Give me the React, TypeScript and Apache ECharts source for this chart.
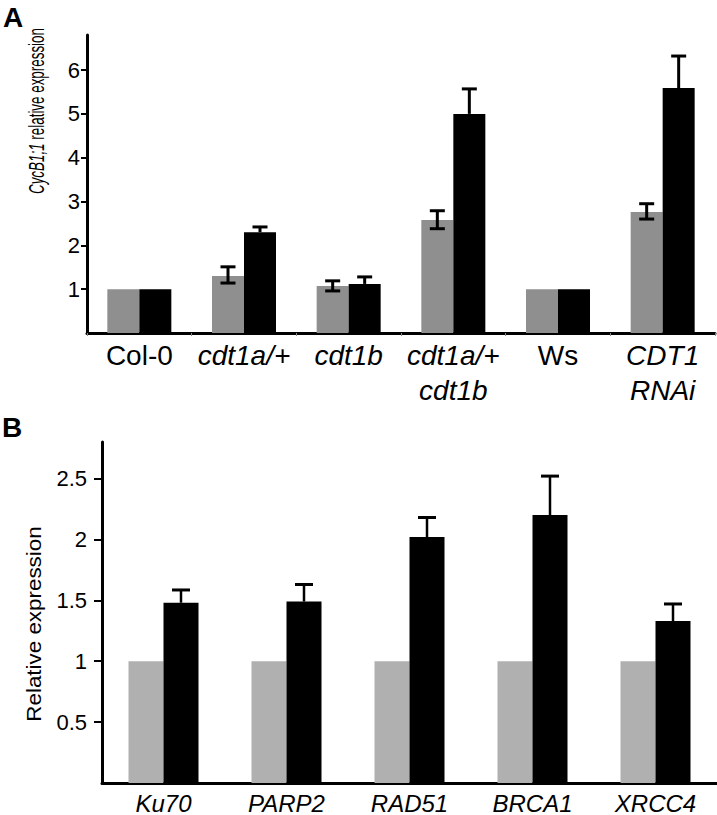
import React, { useEffect, useRef } from "react";
import * as echarts from "echarts";

// ---------- Panel A data ----------
const catsA = ["Col-0", "cdt1a/+", "cdt1b", "cdt1a/+ cdt1b", "Ws", "CDT1 RNAi"];
const italicA = [false, true, true, true, false, true];
const greyA = [1, 1.3, 1.07, 2.58, 1, 2.76];
const blackA = [1, 2.3, 1.12, 5.0, 1, 5.59];
const greyAErrLow = [null, 1.14, 0.96, 2.38, null, 2.6];
const greyAErrHigh = [null, 1.51, 1.19, 2.79, null, 2.95];
const blackAErrHigh = [null, 2.42, 1.28, 5.57, null, 6.32];
const ticksA = [1, 2, 3, 4, 5, 6];

// ---------- Panel B data ----------
const catsB = ["Ku70", "PARP2", "RAD51", "BRCA1", "XRCC4"];
const greyB = [1, 1, 1, 1, 1];
const blackB = [1.48, 1.49, 2.02, 2.2, 1.33];
const blackBErrHigh = [1.585, 1.63, 2.18, 2.52, 1.47];
const ticksB = [0.5, 1, 1.5, 2, 2.5];

const FONT = "'Liberation Sans', Arial, Helvetica, sans-serif";
const BAR_A = 32;
const BAR_B = 35;

function errRenderer(offset: number, capW: number, twoSided: boolean, vWidth: number, capLW: number) {
  return (params: any, api: any) => {
    const i = api.value(0);
    const lo = api.value(1);
    const hi = api.value(2);
    const top = api.coord([i, hi]);
    const bot = api.coord([i, lo]);
    const x = top[0] + offset;
    const style = { stroke: "#000", lineWidth: vWidth };
    const capStyle = { stroke: "#000", lineWidth: capLW };
    const children: any[] = [
      { type: "line", shape: { x1: x, y1: bot[1], x2: x, y2: top[1] }, style },
      { type: "line", shape: { x1: x - capW / 2, y1: top[1], x2: x + capW / 2, y2: top[1] }, style: capStyle },
    ];
    if (twoSided) {
      children.push({ type: "line", shape: { x1: x - capW / 2, y1: bot[1], x2: x + capW / 2, y2: bot[1] }, style: capStyle });
    }
    return { type: "group", children };
  };
}

export default function App() {
  const ref = useRef<HTMLDivElement>(null);
  useEffect(() => {
    if (!ref.current) return;
    const chart = echarts.init(ref.current, undefined, { renderer: "svg" });

    const greyAErr = greyAErrLow
      .map((lo, i) => (lo == null ? null : [i, lo, greyAErrHigh[i]]))
      .filter((d) => d !== null);
    const blackAErr = blackAErrHigh
      .map((hi, i) => (hi == null ? null : [i, blackA[i], hi]))
      .filter((d) => d !== null);
    const blackBErr = blackBErrHigh.map((hi, i) => [i, blackB[i], hi]);

    const labelA = (v: string, idx: number) => {
      const key = italicA[idx] ? "i" : "n";
      return v
        .split(" ")
        .map((p) => `{${key}|${p}}`)
        .join("\n");
    };

    // measure text widths for the rotated A title
    const titleItalic = "CycB1;1";
    const titleRest = " relative expression";
    const fItalic = `italic 22px ${FONT}`;
    const fNormal = `22px ${FONT}`;
    const w1 = echarts.format.getTextRect
      ? (echarts.format as any).getTextRect(titleItalic, fItalic).width
      : 83;
    const w2 = echarts.format.getTextRect
      ? (echarts.format as any).getTextRect(titleRest, fNormal).width
      : 190;
    const total = w1 + w2;

    chart.setOption({
      animation: false,
      textStyle: { fontFamily: FONT },
      graphic: [
        {
          type: "text",
          left: 3,
          top: 3,
          style: { text: "A", font: `bold 28px ${FONT}`, fill: "#000" },
        },
        {
          type: "text",
          left: 2,
          top: 413,
          style: { text: "B", font: `bold 28px ${FONT}`, fill: "#000" },
        },
        {
          type: "group",
          x: 37,
          y: 111,
          rotation: Math.PI / 2,
          children: [
            {
              type: "group",
              scaleX: 166 / total,
              children: [
                {
                  type: "text",
                  x: -total / 2,
                  y: 0,
                  style: { text: titleItalic, font: fItalic, fill: "#000", align: "left", verticalAlign: "middle" },
                },
                {
                  type: "text",
                  x: -total / 2 + w1,
                  y: 0,
                  style: { text: titleRest, font: fNormal, fill: "#000", align: "left", verticalAlign: "middle" },
                },
              ],
            },
          ],
        },
        {
          type: "group",
          x: 34,
          y: 624,
          rotation: Math.PI / 2,
          children: [
            {
              type: "group",
              scaleX: 1.12,
              children: [
                {
                  type: "text",
                  x: 0,
                  y: 0,
                  style: {
                    text: "Relative expression",
                    align: "center",
                    verticalAlign: "middle",
                    font: `20px ${FONT}`,
                    fill: "#000",
                  },
                },
              ],
            },
          ],
        },
      ],
      grid: [
        { left: 87, top: 35, width: 628, height: 298 },
        { left: 102, top: 442, width: 624, height: 345 },
      ],
      xAxis: [
        {
          type: "category",
          gridIndex: 0,
          data: catsA,
          axisLine: { lineStyle: { color: "#000", width: 3 } },
          axisTick: { show: true, length: 3, lineStyle: { color: "#888", width: 1 } },
          axisLabel: {
            interval: 0,
            margin: 5,
            formatter: labelA,
            rich: {
              i: { fontStyle: "italic", fontSize: 28, lineHeight: 35, color: "#000", fontFamily: FONT },
              n: { fontSize: 28, lineHeight: 35, color: "#000", fontFamily: FONT },
            },
          },
        },
        {
          type: "category",
          gridIndex: 1,
          data: catsB,
          axisLine: { lineStyle: { color: "#000", width: 3 } },
          axisTick: { show: false },
          axisLabel: {
            interval: 0,
            margin: 8,
            fontStyle: "italic",
            fontSize: 24,
            color: "#000",
          },
        },
      ],
      yAxis: [
        {
          type: "value",
          gridIndex: 0,
          min: 0,
          max: 6.8,
          splitLine: { show: false },
          axisLine: { show: true, lineStyle: { color: "#000", width: 3 } },
          axisTick: { show: true, length: 6, customValues: ticksA, lineStyle: { color: "#000", width: 2 } },
          axisLabel: { customValues: ticksA, fontSize: 22, color: "#000", margin: 7 },
        },
        {
          type: "value",
          gridIndex: 1,
          min: 0,
          max: 2.8,
          splitLine: { show: false },
          axisLine: { show: true, lineStyle: { color: "#000", width: 3 } },
          axisTick: { show: true, length: 8, customValues: ticksB, lineStyle: { color: "#000", width: 2 } },
          axisLabel: { customValues: ticksB, fontSize: 22, color: "#000", margin: 15 },
        },
      ],
      series: [
        {
          type: "bar",
          xAxisIndex: 0,
          yAxisIndex: 0,
          data: greyA,
          barWidth: BAR_A,
          barGap: "0%",
          itemStyle: { color: "#8f8f8f" },
        },
        {
          type: "bar",
          xAxisIndex: 0,
          yAxisIndex: 0,
          data: blackA,
          barWidth: BAR_A,
          barGap: "0%",
          itemStyle: { color: "#000" },
        },
        {
          type: "custom",
          xAxisIndex: 0,
          yAxisIndex: 0,
          z: 5,
          data: greyAErr,
          renderItem: errRenderer(-BAR_A / 2, 15, true, 3, 3),
        },
        {
          type: "custom",
          xAxisIndex: 0,
          yAxisIndex: 0,
          z: 5,
          data: blackAErr,
          renderItem: errRenderer(BAR_A / 2, 15, false, 3, 3),
        },
        {
          type: "bar",
          xAxisIndex: 1,
          yAxisIndex: 1,
          data: greyB,
          barWidth: BAR_B,
          barGap: "0%",
          itemStyle: { color: "#b0b0b0" },
        },
        {
          type: "bar",
          xAxisIndex: 1,
          yAxisIndex: 1,
          data: blackB,
          barWidth: BAR_B,
          barGap: "0%",
          itemStyle: { color: "#000" },
        },
        {
          type: "custom",
          xAxisIndex: 1,
          yAxisIndex: 1,
          z: 5,
          data: blackBErr,
          renderItem: errRenderer(BAR_B / 2, 18, false, 2.5, 3),
        },
      ],
    });
    return () => chart.dispose();
  }, []);

  return (
    <div
      ref={ref}
      style={{ position: "fixed", left: 0, top: 0, width: 717, height: 815, background: "#fff" }}
    />
  );
}
